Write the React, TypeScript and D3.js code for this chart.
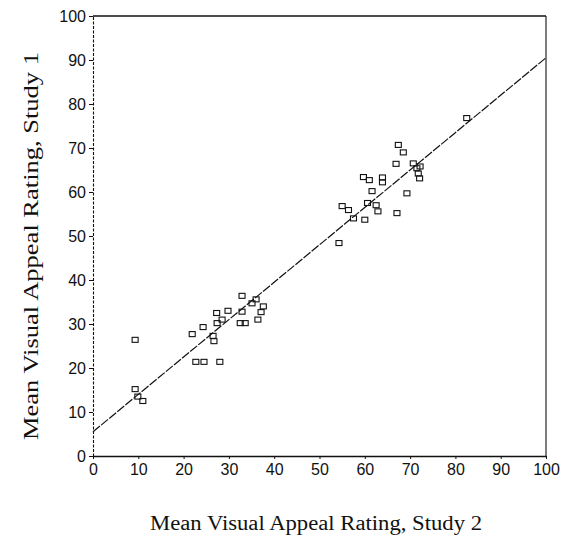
import React, { useRef, useEffect } from 'react';
import * as d3 from 'd3';

// Mean ratings (x = Study 2, y = Study 1)
const studyTwo = [
  9.3, 9.3, 9.9, 11, 21.9, 24.3, 22.7, 24.5, 28, 26.5, 26.7, 27.3, 27.4, 28.5, 29.8,
  32.9, 32.9, 32.5, 33.6, 35.1, 36, 37.6, 37.1, 36.4,
  54.3, 55, 56.4, 57.5, 60, 60.6, 62.5, 62.9, 67.1, 61.6, 69.3, 59.7, 61, 63.9, 63.9,
  66.9, 67.4, 68.5, 70.7, 71.5, 72.2, 71.8, 72.1, 82.5,
];
const studyOne = [
  26.4, 15.2, 13.5, 12.5, 27.7, 29.3, 21.4, 21.4, 21.4, 27.3, 26.1, 32.5, 30.2, 31, 33,
  36.4, 32.8, 30.2, 30.2, 34.7, 35.6, 34, 32.7, 31,
  48.4, 56.8, 55.9, 54, 53.7, 57.5, 57, 55.6, 55.2, 60.2, 59.7, 63.4, 62.7, 63.3, 62.2,
  66.4, 70.7, 69, 66.5, 65.4, 65.8, 64.2, 63.1, 76.8,
];

// fitted regression line end points
const fitX = [0, 100];
const fitY = [5.5, 90.5];

const tickValues = [0, 10, 20, 30, 40, 50, 60, 70, 80, 90, 100];

const xTitle = 'Mean Visual Appeal Rating, Study 2';
const yTitle = 'Mean Visual Appeal Rating, Study 1';

export default function App() {
  const svgRef = useRef<SVGSVGElement | null>(null);

  useEffect(() => {
    const svg = d3.select(svgRef.current);
    svg.selectAll('*').remove();

    const left = 93, right = 546, top = 16, bottom = 456;

    const x = d3.scaleLinear().domain([0, 100]).range([left, right]);
    const y = d3.scaleLinear().domain([0, 100]).range([bottom, top]);

    // frame
    svg.append('line')
      .attr('x1', left).attr('x2', right).attr('y1', top).attr('y2', top)
      .attr('stroke', '#111').attr('stroke-width', 1.4);
    svg.append('line')
      .attr('x1', right).attr('x2', right).attr('y1', top).attr('y2', bottom)
      .attr('stroke', '#111').attr('stroke-width', 1.1);

    // x axis
    const xAxis = svg.append('g')
      .attr('transform', `translate(0,${bottom})`)
      .call(d3.axisBottom(x).tickValues(tickValues).tickSize(3).tickSizeOuter(0).tickPadding(5));
    xAxis.select('.domain').attr('stroke', '#111').attr('stroke-width', 1.3);
    xAxis.selectAll('line').attr('stroke', '#111');
    xAxis.selectAll('text')
      .style('font-family', '"Liberation Sans", Arial, sans-serif')
      .style('font-size', '16px')
      .attr('fill', '#111');

    // y axis
    const yAxis = svg.append('g')
      .attr('transform', `translate(${left},0)`)
      .call(d3.axisLeft(y).tickValues(tickValues).tickSize(4).tickSizeOuter(0).tickPadding(3));
    yAxis.select('.domain').attr('stroke', '#111').attr('stroke-width', 1.1)
      .attr('stroke-dasharray', '3 1.5');
    yAxis.selectAll('line').attr('stroke', '#111');
    yAxis.selectAll('text')
      .style('font-family', '"Liberation Sans", Arial, sans-serif')
      .style('font-size', '16px')
      .attr('fill', '#111');

    // regression line
    const line = d3.line<number>()
      .x((d) => x(d))
      .y((_, i) => y(fitY[i]));
    svg.append('path')
      .attr('d', line(fitX))
      .attr('fill', 'none')
      .attr('stroke', '#111')
      .attr('stroke-width', 1.2)
      .attr('stroke-dasharray', '9 1.5');

    // points
    const w = 6, h = 5;
    svg.append('g')
      .selectAll('rect')
      .data(studyTwo.map((v, i) => ({ sx: v, sy: studyOne[i] })))
      .enter().append('rect')
      .attr('x', (d) => x(d.sx) - w / 2)
      .attr('y', (d) => y(d.sy) - h / 2)
      .attr('width', w)
      .attr('height', h)
      .attr('fill', 'none')
      .attr('stroke', '#111')
      .attr('stroke-width', 1.1);

    // axis titles
    svg.append('text')
      .attr('x', 316)
      .attr('y', 530)
      .attr('text-anchor', 'middle')
      .attr('textLength', 332)
      .attr('lengthAdjust', 'spacingAndGlyphs')
      .style('font-family', '"Liberation Serif", "Times New Roman", serif')
      .style('font-size', '20px')
      .attr('fill', '#111')
      .text(xTitle);

    svg.append('text')
      .attr('transform', `translate(38,246) rotate(-90)`)
      .attr('text-anchor', 'middle')
      .attr('textLength', 388)
      .attr('lengthAdjust', 'spacingAndGlyphs')
      .style('font-family', '"Liberation Serif", "Times New Roman", serif')
      .style('font-size', '20px')
      .attr('fill', '#111')
      .text(yTitle);
  }, []);

  return (
    <svg
      ref={svgRef}
      width={563}
      height={544}
      style={{ position: 'absolute', left: 0, top: 0, background: '#fff' }}
    />
  );
}
